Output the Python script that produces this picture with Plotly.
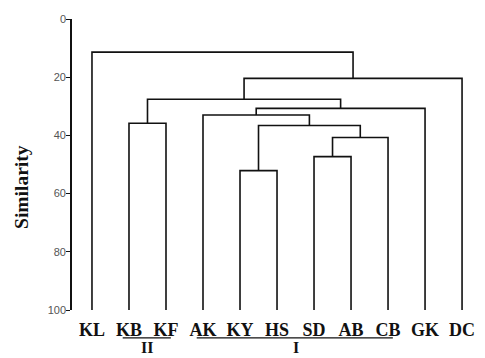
import plotly.graph_objects as go

# ---- data ----
leaves = ["KL", "KB", "KF", "AK", "KY", "HS", "SD", "AB", "CB", "GK", "DC"]
# merges: cluster ids 0..10 are leaves, 11.. are merges in order
merge_left = [6, 4, 11, 12, 3, 1, 15, 16, 18, 0]
merge_right = [7, 5, 8, 13, 14, 2, 9, 17, 10, 19]
merge_height = [47.3, 52.1, 40.7, 36.6, 33.0, 35.8, 30.7, 27.6, 20.4, 11.4]
leaf_height = 100
y_ticks = [0, 20, 40, 60, 80, 100]
group_names = ["II", "I"]
group_first = ["KB", "AK"]
group_last = ["KF", "CB"]

# ---- build dendrogram segments ----
pos = {i: (float(i), leaf_height) for i in range(len(leaves))}
xs, ys = [], []
for k, (a, b, h) in enumerate(zip(merge_left, merge_right, merge_height)):
    xa, ya = pos[a]
    xb, yb = pos[b]
    xs += [xa, xa, xb, xb, None]
    ys += [ya, h, h, yb, None]
    pos[len(leaves) + k] = ((xa + xb) / 2, h)

fig = go.Figure()
fig.add_trace(go.Scatter(x=xs, y=ys, mode="lines",
                         line=dict(color="#111", width=1.6),
                         hoverinfo="skip", showlegend=False))

serif = "Liberation Serif, Times New Roman, serif"

for name, f, l in zip(group_names, group_first, group_last):
    i0 = leaves.index(f)
    i1 = leaves.index(l)
    fig.add_shape(type="line", xref="x", yref="paper",
                  x0=i0 - 0.17, x1=i1 + 0.13, y0=-0.096, y1=-0.096,
                  line=dict(color="#111", width=1.3))
    fig.add_annotation(x=(i0 + i1) / 2, xref="x", y=-0.128, yref="paper",
                       xanchor="center", yanchor="middle",
                       text=f"<b>{name}</b>", showarrow=False,
                       borderpad=0,
                       font=dict(family=serif, size=16, color="#111"))

fig.add_annotation(x=-0.124, xref="paper", y=0.423, yref="paper",
                   xanchor="center", yanchor="middle",
                   text="<b>Similarity</b>", showarrow=False, textangle=-90,
                   font=dict(family=serif, size=19.5, color="#111"))

fig.update_layout(
    width=485, height=358,
    margin=dict(l=64, r=18, t=11, b=56),
    paper_bgcolor="white", plot_bgcolor="white",
    xaxis=dict(range=[-0.54, 10.35], tickmode="array", automargin=False,
               tickvals=list(range(len(leaves))), ticktext=[f"<b>{s}</b>" for s in leaves],
               tickfont=dict(family=serif, size=18, color="#111"), ticklabelstandoff=7,
               showgrid=False, zeroline=False, showline=False, ticks=""),
    yaxis=dict(range=[leaf_height, 0], tickmode="array", tickvals=y_ticks, automargin=False,
               tickfont=dict(family="Liberation Sans, Arial, sans-serif", size=11, color="#555"),
               ticklabelstandoff=-2,
               showgrid=False, zeroline=False, showline=True, linecolor="#111", linewidth=1.6,
               ticks="outside", ticklen=4, tickwidth=1.4, tickcolor="#111"),
)

fig.write_html("out.html")
